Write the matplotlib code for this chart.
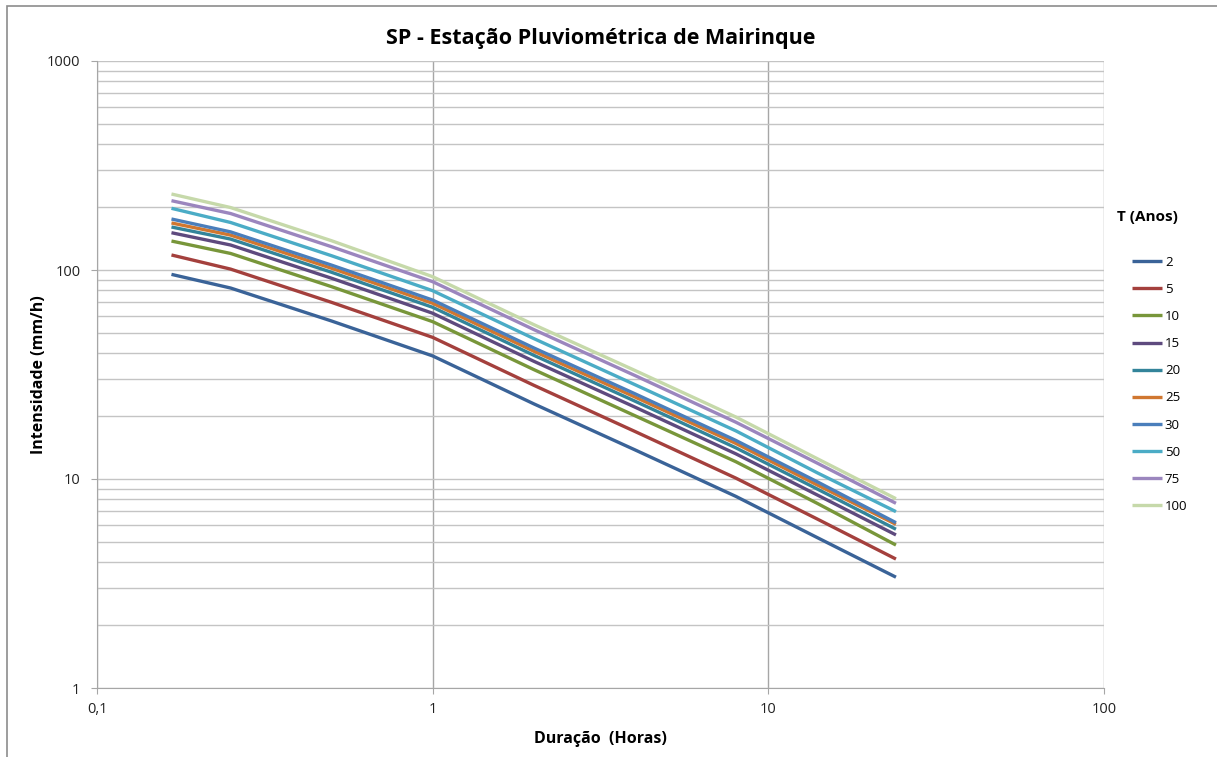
import matplotlib
matplotlib.use("Agg")
import matplotlib.pyplot as plt
from matplotlib.patches import Rectangle
from matplotlib.ticker import FixedLocator, FixedFormatter, LogLocator, NullFormatter

plt.rcParams["font.family"] = ["Open Sans", "DejaVu Sans"]

# durations in hours (10 min ... 24 h)
durations = [1 / 6, 0.25, 0.5, 1, 2, 4, 8, 14, 24]

return_periods = ["2", "5", "10", "15", "20", "25", "30", "50", "75", "100"]

# intensities (mm/h)
i_2 = [95.3, 82.0, 57.0, 38.8, 22.9, 13.8, 8.26, 5.24, 3.39]
i_5 = [118.0, 101.0, 70.0, 47.6, 28.1, 16.9, 10.1, 6.43, 4.14]
i_10 = [137.6, 120.0, 83.2, 56.6, 33.4, 20.1, 12.1, 7.64, 4.83]
i_15 = [150.8, 131.7, 91.3, 62.1, 36.6, 22.1, 13.2, 8.38, 5.40]
i_20 = [160.6, 140.6, 97.5, 66.3, 39.1, 23.6, 14.1, 8.95, 5.75]
i_25 = [167.9, 146.9, 101.9, 69.3, 40.9, 24.7, 14.8, 9.36, 6.07]
i_30 = [175.4, 152.2, 105.5, 71.8, 42.4, 25.6, 15.3, 9.69, 6.18]
i_50 = [197.3, 168.8, 117.0, 79.6, 47.0, 28.3, 17.0, 10.7, 6.98]
i_75 = [214.6, 186.3, 129.2, 87.9, 51.9, 31.3, 18.7, 11.9, 7.65]
i_100 = [231.0, 199.0, 138.0, 92.9, 54.8, 33.1, 19.8, 12.5, 8.05]

series = [i_2, i_5, i_10, i_15, i_20, i_25, i_30, i_50, i_75, i_100]
colors = ["#3A6398", "#A4403D", "#78963A", "#5E4A7E", "#33849A",
          "#D07730", "#4A7EBB", "#4BACC6", "#9B86BE", "#C6D9AA"]

fig = plt.figure(figsize=(12.17, 7.57), dpi=100)
ax = fig.add_axes([97 / 1217, 1 - 688 / 757, 1007 / 1217, 627 / 757])

# outer chart frame (only left/top edges visible in the reference)
fig.patches.append(Rectangle((7 / 1217, -0.1), 1.2, 1 - 6 / 757 + 0.1,
                             transform=fig.transFigure, fill=False,
                             edgecolor="#8c8c8c", linewidth=1.2))

for vals, color, label in zip(series, colors, return_periods):
    ax.plot(durations, vals, color=color, linewidth=2.4, label=label,
            solid_capstyle="butt")

ax.set_xscale("log")
ax.set_yscale("log")
ax.set_xlim(0.1, 100)
ax.set_ylim(1, 1000)

ax.xaxis.set_major_locator(FixedLocator([0.1, 1, 10, 100]))
ax.xaxis.set_major_formatter(FixedFormatter(["0,1", "1", "10", "100"]))
ax.xaxis.set_minor_locator(FixedLocator([]))
ax.yaxis.set_major_locator(FixedLocator([1, 10, 100, 1000]))
ax.yaxis.set_major_formatter(FixedFormatter(["1", "10", "100", "1000"]))
ax.yaxis.set_minor_locator(LogLocator(base=10, subs=range(2, 10)))
ax.yaxis.set_minor_formatter(NullFormatter())

ax.grid(True, which="major", axis="x", color="#a6a6a6", linewidth=1.0)
ax.grid(True, which="both", axis="y", color="#c4c4c4", linewidth=1.0)
ax.set_axisbelow(True)

for side in ["top", "right"]:
    ax.spines[side].set_visible(False)
for side in ["left", "bottom"]:
    ax.spines[side].set_color("#a6a6a6")

ax.tick_params(axis="both", which="major", length=4, color="#a6a6a6",
               labelsize=10.5, labelcolor="#222222")
ax.tick_params(axis="y", which="minor", length=0)
ax.tick_params(axis="x", pad=6)
ax.tick_params(axis="y", pad=8)

ax.set_title("SP - Estação Pluviométrica de Mairinque", fontsize=15.5,
             fontweight="bold", pad=12)
ax.set_xlabel("Duração  (Horas)", fontsize=11.5, fontweight="bold", labelpad=10)
ax.set_ylabel("Intensidade (mm/h)", fontsize=11.5, fontweight="bold")
ax.yaxis.set_label_coords(-50 / 1007, 0.5)

# legend title placed separately to match the wider gap in the reference
fig.text(1117 / 1217, 1 - 217 / 757, "T (Anos)", fontsize=11,
         fontweight="bold", va="center", ha="left")
leg = ax.legend(loc="upper left",
                bbox_to_anchor=(1120 / 1217, 1 - 244 / 757),
                bbox_transform=fig.transFigure, frameon=False,
                fontsize=9.5, handlelength=2.3, handletextpad=0.2,
                labelspacing=1.07)

fig.savefig("out.png", dpi=100)
